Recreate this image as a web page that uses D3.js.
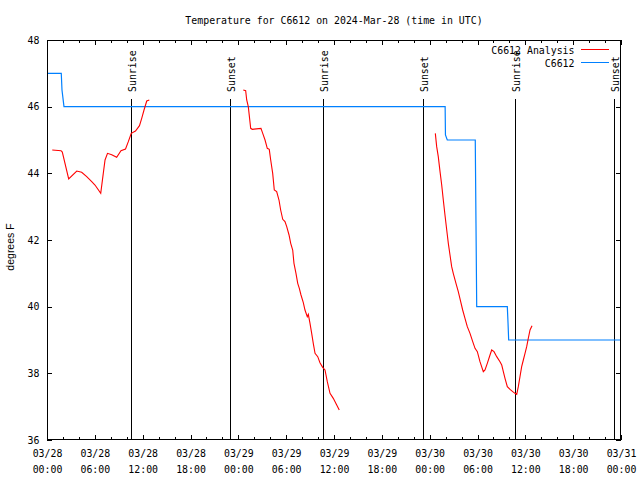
<!DOCTYPE html>
<html>
<head>
<meta charset="utf-8">
<script src="https://cdn.jsdelivr.net/npm/d3@7"></script>
<style>
  html, body { margin: 0; padding: 0; background: #fff; }
  svg { display: block; }
  text { font-family: "DejaVu Sans Mono", "Liberation Mono", monospace; font-size: 9.9px; fill: #000; }
</style>
</head>
<body>
<script>
// ---- data (hours since 2024-03-28 00:00 UTC) ----
const title = "Temperature for C6612 on 2024-Mar-28 (time in UTC)";
const yLabel = "degrees F";
const seriesNames = ["C6612 Analysis", "C6612"];
const seriesColors = ["#ff0000", "#0080ff"];

const analysisHours = [
  0.66, 1.76, 1.92, 2.72, 3.73, 4.35, 4.98, 5.61, 6.02, 6.74, 7.06, 7.28, 7.59, 8.12, 8.74, 9.28, 9.85, 10.2, 10.57, 11.1, 11.6, 11.88, 12.17, 12.51, 12.83,
  null,
  24.62, 24.92, 25.05, 25.25, 25.55, 25.75, 26.84, 27.06, 27.35, 27.63, 27.88, 28.06, 28.31, 28.51, 28.81, 29.1, 29.31, 29.57, 29.85, 30.07, 30.36, 30.57, 30.82, 30.98, 31.23, 31.45, 31.65, 31.86, 32.15, 32.36, 32.65, 32.78, 32.99, 33.2, 33.4, 33.62, 33.96, 34.24, 34.58, 34.87, 35.16, 35.5, 35.91, 36.34, 36.66,
  null,
  48.71, 48.88, 49.08, 49.3, 49.51, 49.71, 49.92, 50.14, 50.34, 50.55, 50.76, 50.96, 51.3, 51.59, 51.89, 52.14, 52.43, 52.72, 53.06, 53.4, 53.69, 53.98, 54.31, 54.73, 54.94, 55.23, 55.57, 55.78, 56.07, 56.41, 56.82, 57.04, 57.24, 57.45, 57.74, 58.08, 58.42, 58.7, 58.92, 59.12, 59.33, 59.54, 59.75, 59.96, 60.17, 60.37, 60.59, 60.84
];
const analysisTemps = [
  44.7, 44.68, 44.64, 43.83, 44.07, 44.03, 43.9, 43.75, 43.65, 43.4, 44.0, 44.4, 44.6, 44.56, 44.48, 44.68, 44.73, 44.95, 45.2, 45.27, 45.43, 45.65, 45.9, 46.17, 46.2,
  null,
  46.5, 46.48, 46.2, 46.0, 45.35, 45.32, 45.35, 45.2, 45.0, 44.75, 44.72, 44.4, 44.0, 43.5, 43.45, 43.2, 42.9, 42.62, 42.55, 42.4, 42.15, 41.9, 41.7, 41.3, 41.0, 40.7, 40.55, 40.35, 40.12, 39.9, 39.7, 39.77, 39.5, 39.2, 38.9, 38.6, 38.5, 38.32, 38.18, 38.1, 37.75, 37.4, 37.25, 37.05, 36.9,
  null,
  45.2, 44.8, 44.5, 44.05, 43.65, 43.2, 42.75, 42.3, 41.9, 41.55, 41.2, 41.0, 40.7, 40.45, 40.15, 39.9, 39.65, 39.4, 39.2, 38.95, 38.75, 38.65, 38.35, 38.05, 38.1, 38.3, 38.55, 38.7, 38.65, 38.5, 38.35, 38.25, 38.05, 37.85, 37.6, 37.52, 37.45, 37.4, 37.37, 37.6, 37.9, 38.2, 38.4, 38.6, 38.8, 39.05, 39.3, 39.43
];

const obsHours = [0, 1.79, 1.88, 2.13, 49.94, 49.98, 50.21, 53.72, 53.81, 53.9, 57.74, 57.83, 57.91, 72];
const obsTemps = [47, 47, 46.5, 46, 46, 45.15, 45, 45, 42.5, 40, 40, 39.5, 39, 39];

const sunHours = [10.57, 22.99, 34.58, 47.13, 58.67, 71.09];
const sunLabels = ["Sunrise", "Sunset", "Sunrise", "Sunset", "Sunrise", "Sunset"];
const sunLineTop = 46.23;

const yTicks = [36, 38, 40, 42, 44, 46, 48];
const xMajorHours = [0, 6, 12, 18, 24, 30, 36, 42, 48, 54, 60, 66, 72];
const xMinorHours = d3.range(0, 73, 2);

// ---- layout ----
const W = 640, H = 480;
const L = 47, R = 621, T = 40, B = 440;
const base = Date.UTC(2024, 2, 28);
const toDate = h => new Date(base + h * 3600000);

const x = d3.scaleUtc().domain([toDate(0), toDate(72)]).range([L, R]);
const y = d3.scaleLinear().domain([36, 48]).range([B, T]);

const svg = d3.select("body").append("svg").attr("width", W).attr("height", H);
svg.append("rect").attr("width", W).attr("height", H).attr("fill", "#fff");

// title
svg.append("text").attr("x", (L + R) / 2).attr("y", 24).attr("text-anchor", "middle").text(title);

// axes (ticks inward, mirrored)
const fmtD = d3.utcFormat("%m/%d"), fmtT = d3.utcFormat("%H:%M");
function styleAxis(g) {
  g.select(".domain").remove();
  g.selectAll("line").attr("stroke", "#000").attr("shape-rendering", "crispEdges");
}
// minor x ticks
svg.append("g").attr("transform", `translate(0,${B})`)
  .call(d3.axisBottom(x).tickValues(xMinorHours.map(toDate)).tickSize(-3).tickFormat(""))
  .call(styleAxis);
svg.append("g").attr("transform", `translate(0,${T})`)
  .call(d3.axisTop(x).tickValues(xMinorHours.map(toDate)).tickSize(-3).tickFormat(""))
  .call(styleAxis);
// major x ticks
const xb = svg.append("g").attr("transform", `translate(0,${B})`)
  .call(d3.axisBottom(x).tickValues(xMajorHours.map(toDate)).tickSize(-5).tickFormat(""))
  .call(styleAxis);
xb.selectAll(".tick").each(function(d) {
  const t = d3.select(this).select("text")
    .attr("y", 0).attr("dy", null).attr("font-family", null).attr("font-size", null)
    .attr("fill", "#000");
  t.append("tspan").attr("x", 0).attr("y", 17).text(fmtD(d));
  t.append("tspan").attr("x", 0).attr("y", 32.5).text(fmtT(d));
});
svg.append("g").attr("transform", `translate(0,${T})`)
  .call(d3.axisTop(x).tickValues(xMajorHours.map(toDate)).tickSize(-5).tickFormat(""))
  .call(styleAxis);
// y ticks
const yl = svg.append("g").attr("transform", `translate(${L},0)`)
  .call(d3.axisLeft(y).tickValues(yTicks).tickSize(-5).tickPadding(7).tickFormat(d3.format("d")))
  .call(styleAxis);
yl.selectAll("text").attr("font-family", null).attr("font-size", null).attr("fill", "#000").attr("x", -7.5);
svg.append("g").attr("transform", `translate(${R},0)`)
  .call(d3.axisRight(y).tickValues(yTicks).tickSize(-5).tickFormat(""))
  .call(styleAxis);

// y label
svg.append("text")
  .attr("transform", `translate(13.5,${(T + B) / 2 + 7}) rotate(-90)`)
  .attr("text-anchor", "middle")
  .style("font-family", "'Liberation Sans', Arial, sans-serif").style("font-size", "10.5px")
  .text(yLabel);

// sunrise / sunset lines
const sun = svg.append("g");
sunHours.forEach((h, i) => {
  const sx = Math.round(x(toDate(h))) + 0.5;
  sun.append("line").attr("x1", sx).attr("x2", sx).attr("y1", y(36)).attr("y2", y(sunLineTop))
    .attr("stroke", "#000").attr("stroke-width", 1).attr("shape-rendering", "crispEdges");
  sun.append("text").attr("transform", `translate(${sx + 4.5},92) rotate(-90)`)
    .attr("text-anchor", "start").text(sunLabels[i]);
});

// series lines
const line = d3.line()
  .defined(d => d[0] !== null && d[1] !== null)
  .x(d => x(toDate(d[0])))
  .y(d => y(d[1]));
const analysis = analysisHours.map((h, i) => [h, analysisTemps[i]]);
const obs = obsHours.map((h, i) => [h, obsTemps[i]]);

svg.append("path").datum(obs).attr("d", line)
  .attr("fill", "none").attr("stroke", seriesColors[1]).attr("stroke-width", 1.2);
svg.append("path").datum(analysis).attr("d", line)
  .attr("fill", "none").attr("stroke", seriesColors[0]).attr("stroke-width", 1.1);

// frame
svg.append("rect").attr("x", L + 0.5).attr("y", T + 0.5).attr("width", R - L - 1).attr("height", B - T - 1)
  .attr("fill", "none").attr("stroke", "#000").attr("stroke-width", 1).attr("shape-rendering", "crispEdges");

// legend
const legendY = [50, 63];
seriesNames.forEach((n, i) => {
  svg.append("text").attr("x", 574.5).attr("y", legendY[i] + 3.5).attr("text-anchor", "end").text(n);
  svg.append("line").attr("x1", 581).attr("x2", 609).attr("y1", legendY[i] - 0.5).attr("y2", legendY[i] - 0.5)
    .attr("stroke", seriesColors[i]).attr("stroke-width", 1).attr("shape-rendering", "crispEdges");
});
</script>
</body>
</html>
